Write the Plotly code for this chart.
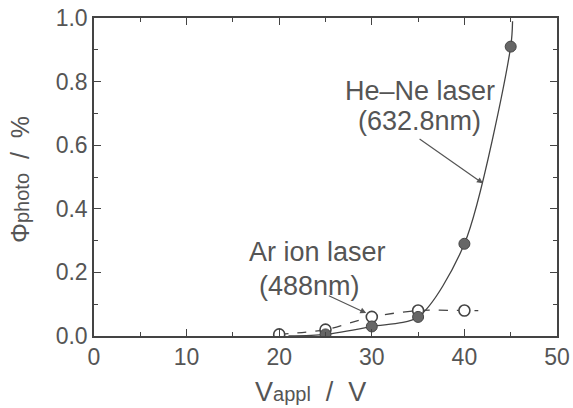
import plotly.graph_objects as go

# He-Ne laser (632.8 nm), filled circles
hene_v = [25, 30, 35, 40, 45]
hene_phi = [0.005, 0.03, 0.06, 0.29, 0.91]

# Ar ion laser (488 nm), open circles
ar_v = [20, 25, 30, 35, 40]
ar_phi = [0.005, 0.02, 0.06, 0.08, 0.08]

# guide curves (smooth lines through the data)
hene_line_v = [21, 25, 30, 35, 40, 45, 45.2]
hene_line_phi = [0.0, 0.005, 0.03, 0.06, 0.29, 0.91, 0.99]
ar_line_v = [20, 25, 30, 35, 40, 41.5]
ar_line_phi = [0.005, 0.02, 0.06, 0.08, 0.08, 0.08]

x_ticks = [0, 10, 20, 30, 40, 50]
y_ticks = [0.0, 0.2, 0.4, 0.6, 0.8, 1.0]

W, H = 573, 408
ML, MR, MT, MB = 94, 16, 18, 72

ink = "#555555"
dark = "#444444"
fig = go.Figure()
fig.add_trace(go.Scatter(x=hene_line_v, y=hene_line_phi, mode="lines",
                         line=dict(color=dark, width=1.3, shape="spline", smoothing=0.8),
                         showlegend=False, hoverinfo="skip"))
fig.add_trace(go.Scatter(x=ar_line_v, y=ar_line_phi, mode="lines",
                         line=dict(color=dark, width=1.3, dash="dash", shape="spline", smoothing=0.8),
                         showlegend=False, hoverinfo="skip"))
fig.add_trace(go.Scatter(x=ar_v, y=ar_phi, mode="markers",
                         marker=dict(size=11, color="white", line=dict(color=dark, width=1.6)),
                         showlegend=False))
fig.add_trace(go.Scatter(x=hene_v, y=hene_phi, mode="markers",
                         marker=dict(size=11, color="#666666", line=dict(color=dark, width=1)),
                         showlegend=False))

font = dict(family="Liberation Sans, Arial, sans-serif", color=ink)

# He-Ne label and arrow
fig.add_annotation(x=42.0, y=0.48, ax=35.0, ay=0.623, xref="x", yref="y", axref="x", ayref="y",
                   showarrow=True, arrowhead=2, arrowsize=1, arrowwidth=1.2, arrowcolor=ink, text="")
fig.add_annotation(x=35.2, y=0.770, xref="x", yref="y", showarrow=False,
                   xanchor="center", yanchor="middle",
                   text="He–Ne laser", font=dict(size=27, **font))
fig.add_annotation(x=35.2, y=0.676, xref="x", yref="y", showarrow=False,
                   xanchor="center", yanchor="middle",
                   text="(632.8nm)", font=dict(size=27, **font))
# Ar ion label and arrow
fig.add_annotation(x=29.4, y=0.072, ax=25.2, ay=0.129, xref="x", yref="y", axref="x", ayref="y",
                   showarrow=True, arrowhead=2, arrowsize=1, arrowwidth=1.2, arrowcolor=ink, text="")
fig.add_annotation(x=24.1, y=0.264, xref="x", yref="y", showarrow=False,
                   xanchor="center", yanchor="middle",
                   text="Ar ion laser", font=dict(size=27, **font))
fig.add_annotation(x=23.3, y=0.157, xref="x", yref="y", showarrow=False,
                   xanchor="center", yanchor="middle",
                   text="(488nm)", font=dict(size=27, **font))

# axis titles (positions given in px from the top-left, converted to paper fractions)
pw, ph = W - ML - MR, H - MT - MB
fig.add_annotation(x=(310 - ML) / pw, y=(H - 392 - MB) / ph, xref="paper", yref="paper",
                   xanchor="center", yanchor="middle", showarrow=False,
                   text='V<span style="font-size:20px">appl</span>  /  V', font=dict(size=27, **font))
fig.add_annotation(x=(20 - ML) / pw, y=(H - 180 - MB) / ph, xref="paper", yref="paper",
                   xanchor="center", yanchor="middle", showarrow=False, textangle=-90,
                   text='Φ<span style="font-size:20px">photo</span>  /  %', font=dict(size=25, **font))

fig.update_layout(
    width=W, height=H,
    margin=dict(l=ML, r=MR, t=MT, b=MB),
    plot_bgcolor="white", paper_bgcolor="white",
    font=font,
)

axis_common = dict(showline=True, linecolor=dark, linewidth=1.5, mirror="ticks",
                   ticks="inside", ticklen=7, tickwidth=1.2, tickcolor=dark,
                   showgrid=False, zeroline=False, automargin=False)
fig.update_xaxes(range=[0, 50], tickvals=x_ticks, ticktext=[str(v) for v in x_ticks],
                 minor=dict(dtick=5, ticks="inside", ticklen=4, tickcolor=dark),
                 tickfont=dict(size=23, **font), **axis_common)
fig.update_yaxes(range=[0, 1.0], tickvals=y_ticks, ticktext=[f"{v:.1f}" for v in y_ticks],
                 minor=dict(dtick=0.1, ticks="inside", ticklen=4, tickcolor=dark),
                 tickfont=dict(size=23, **font), **axis_common)

fig.write_html("out.html", config={"displayModeBar": False},
               post_script="document.body.style.margin='0';")
